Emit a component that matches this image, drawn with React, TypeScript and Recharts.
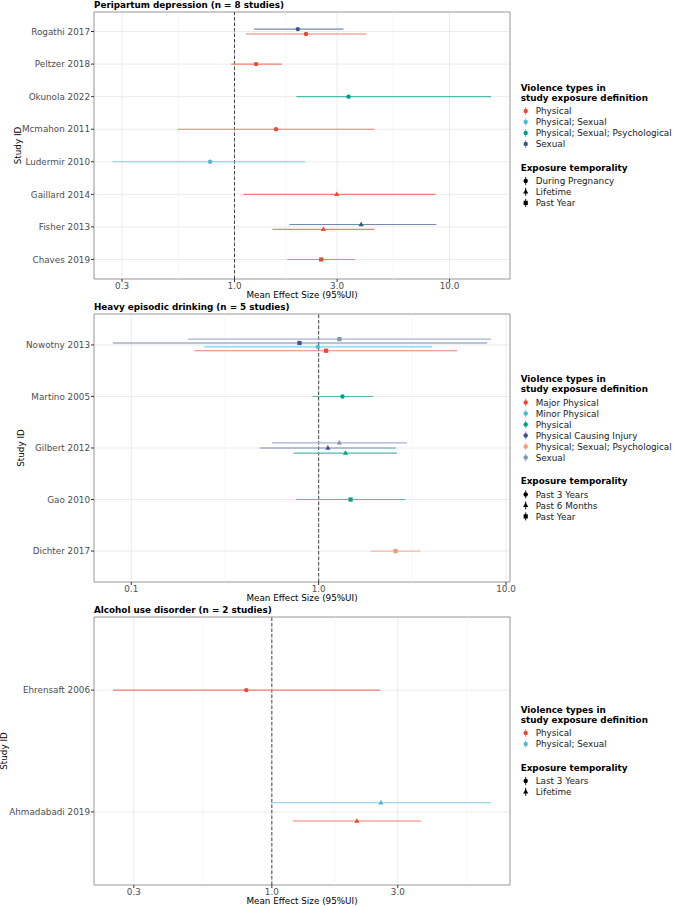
import React from 'react';
import { ScatterChart, Scatter, XAxis, YAxis, CartesianGrid, ReferenceLine, ReferenceArea } from 'recharts';

const FONT = '"DejaVu Sans", Verdana, sans-serif';
const FS = 8.8;

// ---------- Panel 1: Peripartum depression ----------
const p1Title = 'Peripartum depression (n = 8 studies)';
const p1Studies = ['Chaves 2019', 'Fisher 2013', 'Gaillard 2014', 'Ludermir 2010', 'Mcmahon 2011', 'Okunola 2022', 'Peltzer 2018', 'Rogathi 2017'];
const p1Types = ['Physical', 'Physical; Sexual', 'Physical; Sexual; Psychological', 'Sexual'];
const p1Times = ['During Pregnancy', 'Lifetime', 'Past Year'];
const p1Ticks = [0.3, 1, 3, 10];
const p1Study = ['Rogathi 2017', 'Rogathi 2017', 'Peltzer 2018', 'Okunola 2022', 'Mcmahon 2011', 'Ludermir 2010', 'Gaillard 2014', 'Fisher 2013', 'Fisher 2013', 'Chaves 2019'];
const p1Type = ['Sexual', 'Physical', 'Physical', 'Physical; Sexual; Psychological', 'Physical', 'Physical; Sexual', 'Physical', 'Sexual', 'Physical', 'Physical'];
const p1Time = ['During Pregnancy', 'During Pregnancy', 'During Pregnancy', 'During Pregnancy', 'During Pregnancy', 'During Pregnancy', 'Lifetime', 'Lifetime', 'Lifetime', 'Past Year'];
const p1Est = [1.97, 2.15, 1.26, 3.39, 1.56, 0.77, 2.99, 3.88, 2.59, 2.53];
const p1Lo = [1.23, 1.13, 0.965, 1.94, 0.545, 0.272, 1.10, 1.80, 1.50, 1.76];
const p1Hi = [3.21, 4.10, 1.66, 15.6, 4.47, 2.13, 8.58, 8.68, 4.48, 3.62];

// ---------- Panel 2: Heavy episodic drinking ----------
const p2Title = 'Heavy episodic drinking (n = 5 studies)';
const p2Studies = ['Dichter 2017', 'Gao 2010', 'Gilbert 2012', 'Martino 2005', 'Nowotny 2013'];
const p2Types = ['Major Physical', 'Minor Physical', 'Physical', 'Physical Causing Injury', 'Physical; Sexual; Psychological', 'Sexual'];
const p2Times = ['Past 3 Years', 'Past 6 Months', 'Past Year'];
const p2Ticks = [0.1, 1, 10];
const p2Study = ['Nowotny 2013', 'Nowotny 2013', 'Nowotny 2013', 'Nowotny 2013', 'Martino 2005', 'Gilbert 2012', 'Gilbert 2012', 'Gilbert 2012', 'Gao 2010', 'Dichter 2017'];
const p2Type = ['Sexual', 'Physical Causing Injury', 'Minor Physical', 'Major Physical', 'Physical', 'Sexual', 'Physical Causing Injury', 'Physical', 'Physical', 'Physical; Sexual; Psychological'];
const p2Time = ['Past Year', 'Past Year', 'Past 3 Years', 'Past Year', 'Past 3 Years', 'Past 6 Months', 'Past 6 Months', 'Past 6 Months', 'Past Year', 'Past Year'];
const p2Est = [1.29, 0.79, 0.99, 1.095, 1.34, 1.29, 1.12, 1.39, 1.48, 2.57];
const p2Lo = [0.20, 0.0798, 0.245, 0.217, 0.93, 0.564, 0.488, 0.735, 0.757, 1.89];
const p2Hi = [8.32, 7.93, 4.03, 5.48, 1.95, 2.96, 2.58, 2.62, 2.90, 3.49];

// ---------- Panel 3: Alcohol use disorder ----------
const p3Title = 'Alcohol use disorder (n = 2 studies)';
const p3Studies = ['Ahmadabadi 2019', 'Ehrensaft 2006'];
const p3Types = ['Physical', 'Physical; Sexual'];
const p3Times = ['Last 3 Years', 'Lifetime'];
const p3Ticks = [0.3, 1, 3];
const p3Study = ['Ehrensaft 2006', 'Ahmadabadi 2019', 'Ahmadabadi 2019'];
const p3Type = ['Physical', 'Physical; Sexual', 'Physical'];
const p3Time = ['Last 3 Years', 'Lifetime', 'Lifetime'];
const p3Est = [0.80, 2.59, 2.10];
const p3Lo = [0.25, 1.0, 1.20];
const p3Hi = [2.57, 6.77, 3.67];

// palettes (style)
const p1Colors = ['#E64B35', '#4DBBD5', '#00A087', '#3C5488'];
const p2Colors = ['#E64B35', '#4DBBD5', '#00A087', '#3C5488', '#F39B7F', '#8491B4'];
const p3Colors = ['#E64B35', '#4DBBD5'];

function lighten(hex: string, a: number) {
  const r = parseInt(hex.slice(1, 3), 16);
  const g = parseInt(hex.slice(3, 5), 16);
  const b = parseInt(hex.slice(5, 7), 16);
  const f = (c: number) => Math.round(c * a + 255 * (1 - a));
  return `rgb(${f(r)},${f(g)},${f(b)})`;
}

function ShapeMark({ cx, cy, kind, color }: any) {
  if (cx == null || cy == null) return null;
  if (kind === 1) {
    return <polygon points={`${cx},${cy - 2.9} ${cx - 2.6},${cy + 1.7} ${cx + 2.6},${cy + 1.7}`} fill={color} />;
  }
  if (kind === 2) {
    return <rect x={cx - 2.1} y={cy - 2.1} width={4.2} height={4.2} fill={color} />;
  }
  return <circle cx={cx} cy={cy} r={2.2} fill={color} />;
}

const NoShape = () => <g />;

function Panel(props: any) {
  const { title, studies, types, times, ticks, study, type, time, est, lo, hi, colors, top, height, mTop, mBottom, yLabelX } = props;
  const n = studies.length;
  const logs = [...lo, ...hi].map((v: number) => Math.log10(v));
  const minL = Math.min(...logs);
  const maxL = Math.max(...logs);
  const pad = (maxL - minL) * 0.05;
  const dLo = minL - pad;
  const dHi = maxL + pad;
  const domain = [Math.pow(10, dLo), Math.pow(10, dHi)];

  // minor breaks (ggplot style midpoints in log space)
  const tl = ticks.map((v: number) => Math.log10(v));
  const bd = tl[1] - tl[0];
  const ext = [tl[0] - bd, ...tl, tl[tl.length - 1] + bd];
  const minor: number[] = [];
  for (let i = 0; i < ext.length - 1; i++) {
    const m = (ext[i] + ext[i + 1]) / 2;
    if (m > dLo && m < dHi) minor.push(Math.pow(10, m));
  }

  const rows = est.map((e: number, i: number) => ({ id: i, study: study[i], type: type[i], time: time[i], x: e, lo: lo[i], hi: hi[i], y: 0 }));
  rows.forEach((r: any) => {
    const group = rows.filter((q: any) => q.study === r.study).sort((a: any, b: any) => types.indexOf(a.type) - types.indexOf(b.type));
    const k = group.length;
    const j = group.indexOf(r);
    r.y = studies.indexOf(r.study) + 1 - 0.15 + (0.3 / k) * (j + 0.5);
  });

  const plotTop = mTop;
  const plotBottom = height - mBottom;
  const plotLeft = 94;
  const plotRight = 510;
  const plotCy = (plotTop + plotBottom) / 2;
  const plotCx = (plotLeft + plotRight) / 2;

  const legendH = 48.8 + 11 * (types.length + times.length);
  const lgTop = plotCy - legendH / 2;
  const lgX = 520.7;
  const glyphX = 525.7;
  const txtX = 535.7;
  const typeY0 = lgTop + 28.4;
  const title2Y = typeY0 + 11 * (types.length - 1) + 23.4;
  const timeY0 = title2Y + 13.5;

  const yTicks = studies.map((_: string, i: number) => i + 1);

  const XTick = (p: any) => (
    <text x={p.x} y={p.y + 5.2} textAnchor="middle" fontSize={FS} fontFamily={FONT} fill="#4D4D4D">
      {Number(p.payload.value).toFixed(1)}
    </text>
  );
  const YTick = (p: any) => (
    <text x={p.x + 1} y={p.y + 3.2} textAnchor="end" fontSize={FS} fontFamily={FONT} fill="#4D4D4D">
      {studies[Math.round(p.payload.value) - 1]}
    </text>
  );

  return (
    <div style={{ position: 'absolute', left: 0, top, width: 673, height }}>
      <ScatterChart width={673} height={height} margin={{ top: mTop, right: 673 - plotRight, bottom: 0, left: 0 }} style={{ fontFamily: FONT }}>
        <CartesianGrid stroke="#EBEBEB" strokeWidth={1} />
        <XAxis
          dataKey="x"
          type="number"
          scale="log"
          domain={domain}
          allowDataOverflow
          ticks={ticks}
          interval={0}
          axisLine={false}
          tickLine={{ stroke: '#333333' }}
          tickSize={3}
          tickMargin={2}
          height={mBottom}
          tick={<XTick />}
        />
        <YAxis
          dataKey="y"
          type="number"
          domain={[0.4, n + 0.6]}
          allowDataOverflow
          ticks={yTicks}
          interval={0}
          axisLine={false}
          tickLine={{ stroke: '#333333' }}
          tickSize={3}
          tickMargin={2}
          width={plotLeft}
          tick={<YTick />}
        />
        {minor.map((v) => (
          <ReferenceLine key={'m' + v} x={v} stroke="#F0F0F0" strokeWidth={0.6} ifOverflow="visible" />
        ))}
        <ReferenceLine x={1} stroke="#333333" strokeWidth={0.9} strokeDasharray="3.5 2" ifOverflow="visible" />
        {rows.map((r: any) => (
          <Scatter
            key={'ci' + r.id}
            data={[{ x: r.lo, y: r.y }, { x: r.hi, y: r.y }]}
            line={{ stroke: lighten(colors[types.indexOf(r.type)], 0.7), strokeWidth: 1.1 }}
            lineType="joint"
            shape={<NoShape />}
            isAnimationActive={false}
            legendType="none"
          />
        ))}
        {types.map((t: string, ti: number) => (
          <Scatter
            key={t}
            name={t}
            data={rows.filter((r: any) => r.type === t)}
            fill={colors[ti]}
            isAnimationActive={false}
            shape={(sp: any) => <ShapeMark cx={sp.cx} cy={sp.cy} kind={times.indexOf(sp.payload ? sp.payload.time : '')} color={colors[ti]} />}
          />
        ))}
        <ReferenceArea x1={domain[0]} x2={domain[1]} y1={0.4} y2={n + 0.6} fill="none" stroke="#A0A0A0" strokeWidth={1} ifOverflow="visible" />
      </ScatterChart>
      <svg width={673} height={height} style={{ position: 'absolute', left: 0, top: 0, pointerEvents: 'none' }}>
        <text x={plotLeft} y={plotTop - 3.7} fontSize={FS} fontWeight="bold" fontFamily={FONT} fill="#000">{title}</text>
        <text x={plotCx} y={plotBottom + 19.2} textAnchor="middle" fontSize={FS} fontFamily={FONT} fill="#000">Mean Effect Size (95%UI)</text>
        <text x={yLabelX} y={plotCy + 3.2} textAnchor="middle" fontSize={FS} fontFamily={FONT} fill="#000" transform={`rotate(-90 ${yLabelX} ${plotCy})`}>Study ID</text>
        <text x={lgX} y={lgTop + 5 + 3.2} fontSize={FS} fontWeight="bold" fontFamily={FONT} fill="#000">Violence types in</text>
        <text x={lgX} y={lgTop + 15 + 3.2} fontSize={FS} fontWeight="bold" fontFamily={FONT} fill="#000">study exposure definition</text>
        {types.map((t: string, i: number) => {
          const cy = typeY0 + 11 * i;
          return (
            <g key={t}>
              <line x1={glyphX} x2={glyphX} y1={cy - 4} y2={cy + 4} stroke={lighten(colors[i], 0.7)} strokeWidth={0.9} />
              <circle cx={glyphX} cy={cy} r={2.2} fill={colors[i]} />
              <text x={txtX} y={cy + 3.2} fontSize={FS} fontFamily={FONT} fill="#1A1A1A">{t}</text>
            </g>
          );
        })}
        <text x={lgX} y={title2Y + 3.2} fontSize={FS} fontWeight="bold" fontFamily={FONT} fill="#000">Exposure temporality</text>
        {times.map((t: string, i: number) => {
          const cy = timeY0 + 11 * i;
          return (
            <g key={t}>
              <line x1={glyphX} x2={glyphX} y1={cy - 4} y2={cy + 4} stroke="#000" strokeWidth={0.9} />
              <ShapeMark cx={glyphX} cy={cy} kind={i} color="#000" />
              <text x={txtX} y={cy + 3.2} fontSize={FS} fontFamily={FONT} fill="#1A1A1A">{t}</text>
            </g>
          );
        })}
      </svg>
    </div>
  );
}

export default function App() {
  return (
    <div style={{ position: 'absolute', left: 0, top: 0, width: 673, height: 906, background: '#ffffff', fontFamily: FONT }}>
      <Panel
        title={p1Title} studies={p1Studies} types={p1Types} times={p1Times} ticks={p1Ticks}
        study={p1Study} type={p1Type} time={p1Time} est={p1Est} lo={p1Lo} hi={p1Hi} colors={p1Colors}
        top={0} height={302} mTop={12} mBottom={23} yLabelX={17.5}
      />
      <Panel
        title={p2Title} studies={p2Studies} types={p2Types} times={p2Times} ticks={p2Ticks}
        study={p2Study} type={p2Type} time={p2Time} est={p2Est} lo={p2Lo} hi={p2Hi} colors={p2Colors}
        top={302} height={302} mTop={12} mBottom={22} yLabelX={20.7}
      />
      <Panel
        title={p3Title} studies={p3Studies} types={p3Types} times={p3Times} ticks={p3Ticks}
        study={p3Study} type={p3Type} time={p3Time} est={p3Est} lo={p3Lo} hi={p3Hi} colors={p3Colors}
        top={604} height={302} mTop={13} mBottom={21} yLabelX={4.2}
      />
    </div>
  );
}
